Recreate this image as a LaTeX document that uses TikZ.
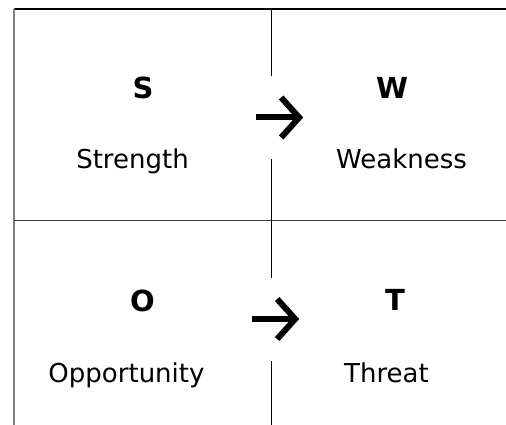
\documentclass[tikz,border=0pt]{standalone}
\usepackage{fontspec}
\setmainfont{DejaVu Sans}
\usepackage{tikz}
\usetikzlibrary{arrows.meta}

\begin{document}
\begin{tikzpicture}[x=1pt,y=-1pt,
    letter/.style={font=\bfseries\fontsize{29}{34}\selectfont,anchor=base},
    word/.style={font=\fontsize{26}{31}\selectfont,anchor=base},
    gap/.style={fill=white,inner sep=0pt,minimum width=47pt,minimum height=83pt},
    >={Straight Barb[length=18pt,width=40pt]}
]
\useasboundingbox (0,0) rectangle (506,425);

% grid
\draw[line width=1.2pt] (14,9) -- (506,9);
\draw[gray,line width=1.4pt] (14,9) -- (14,425);
\draw[black!75,line width=1pt] (14,220.5) -- (506,220.5);
\draw[line width=1pt] (271.5,9) -- (271.5,425);

% the four fields
\node[letter] (s) at (143,99) {S};
\node[word] (strength) at (132.5,168) {Strength};
\node[letter] (w) at (392,99) {W};
\node[word] (weakness) at (401.5,168) {Weakness};
\node[letter] (o) at (142.5,311) {O};
\node[word] (opportunity) at (126.5,382) {Opportunity};
\node[letter] (t) at (395,310) {T};
\node[word] (threat) at (386.5,382) {Threat};

% arrows across the middle line
\node[gap] (sw) at (279.5,117.5) {};
\node[gap] (ot) at (275.5,319) {};
\draw[->,line width=6pt] (sw.west) -- (sw.east);
\draw[->,line width=6pt] (ot.west) -- (ot.east);
\end{tikzpicture}
\end{document}
